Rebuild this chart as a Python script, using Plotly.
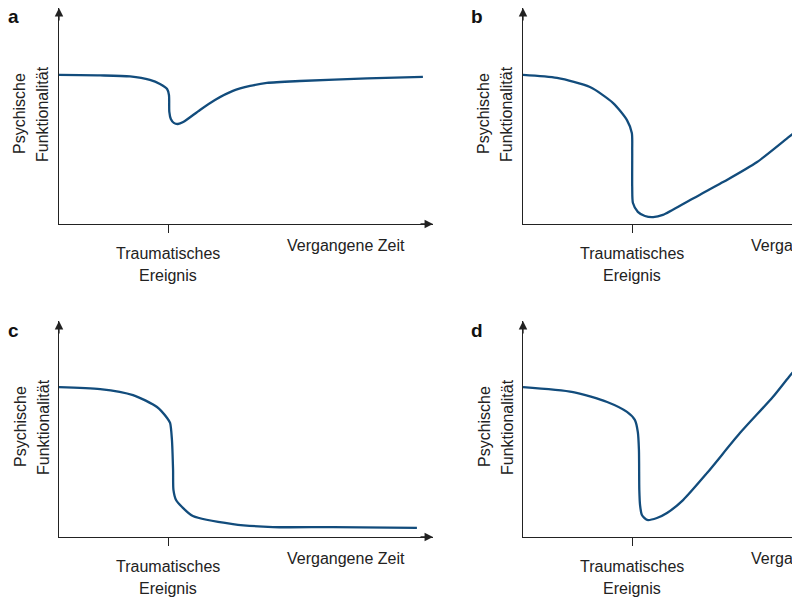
import plotly.graph_objects as go

# curve a: small dip, fast recovery
a_x = [0, 11, 19, 24.3, 27, 28.9, 29.4, 29.5, 29.9, 30.7, 31.8, 33.2, 37.7, 41.7, 46.5, 51.1, 55.6, 64.4, 82.4, 97.3]
a_y = [69.0, 68.8, 68.3, 66.7, 64.8, 62.5, 59.7, 51.9, 48.6, 46.8, 46.3, 47.2, 52.8, 57.4, 61.6, 63.9, 65.3, 66.2, 67.4, 68.1]

# curve b: deep drop, slow recovery
b_x = [0, 9.1, 17.9, 24.1, 27.8, 29.1, 29.2, 29.2, 29.4, 30.7, 32.6, 34.8, 37.4, 44.7, 53.5, 62.6, 71.1, 74.1]
b_y = [69.0, 67.6, 63.4, 56.0, 48.1, 42.1, 34.3, 17.1, 9.7, 5.6, 3.7, 3.2, 4.2, 11.1, 19.4, 28.7, 40.3, 44.4]

# curve c: drop without recovery
c_x = [0, 11, 19.8, 26.2, 28.9, 29.7, 30.2, 30.5, 30.6, 31.3, 32.9, 35.8, 46.5, 57.2, 73.3, 95.7]
c_y = [69.4, 68.5, 65.7, 60.2, 55.1, 52.8, 44.9, 31.0, 21.8, 17.1, 13.9, 9.7, 6.0, 4.6, 4.6, 4.2]

# curve d: deep drop, growth beyond the start level
d_x = [0, 13.4, 22.5, 27.8, 29.9, 30.7, 31.0, 31.1, 31.3, 31.8, 33.2, 35.8, 38.5, 42.8, 49.2, 58.0, 66.8, 71.1, 74.1]
d_y = [69.4, 67.1, 62.5, 57.9, 54.2, 48.6, 40.3, 21.8, 14.8, 10.2, 7.9, 8.8, 11.1, 17.1, 29.6, 48.1, 64.8, 74.1, 80.1]

event_x = {'a': 29.4, 'b': 29.2, 'c': 29.4, 'd': 29.2}
panel_names = ['a', 'b', 'c', 'd']
xlabel = 'Vergangene Zeit'
ylabel = ['Psychische', 'Funktionalität']
event_label = ['Traumatisches', 'Ereignis']

W, H = 792, 598
LINE = '#124c7c'
AX = '#222222'
FONT = 'Liberation Sans, Arial, sans-serif'


def px(x):
    return x / W


def py(y):
    return 1 - y / H


# panel origins in pixels: (x of y-axis, y of x-axis), offsets of label block
panels = {
    'a': dict(x0=59, y0=224, dx=0, dy=0, curve=(a_x, a_y)),
    'b': dict(x0=523, y0=224, dx=464, dy=0, curve=(b_x, b_y)),
    'c': dict(x0=59, y0=537, dx=0, dy=313, curve=(c_x, c_y)),
    'd': dict(x0=523, y0=537, dx=464, dy=313, curve=(d_x, d_y)),
}

fig = go.Figure()
layout = dict(width=W, height=H, margin=dict(l=0, r=0, t=0, b=0),
              paper_bgcolor='white', plot_bgcolor='white', showlegend=False,
              font=dict(family=FONT, size=16, color='#222222'))
annotations = []

for i, name in enumerate(panel_names):
    p = panels[name]
    n = '' if i == 0 else str(i + 1)
    x_end = min(p['x0'] + 374, W)
    xmax = (x_end - p['x0']) / 3.74
    layout['xaxis' + n] = dict(domain=[px(p['x0']), px(x_end)], range=[0, xmax],
                               showgrid=False, zeroline=False, showline=True,
                               linecolor=AX, linewidth=1.3, tickvals=[event_x[name]],
                               ticks='outside', ticklen=8, tickwidth=1.3, tickcolor=AX,
                               showticklabels=False, anchor='y' + n, fixedrange=True)
    layout['yaxis' + n] = dict(domain=[py(p['y0']), py(p['y0'] - 216)], range=[0, 100],
                               showgrid=False, zeroline=False, showline=True,
                               linecolor=AX, linewidth=1.3, ticks='', showticklabels=False,
                               anchor='x' + n, fixedrange=True)
    cx, cy = p['curve']
    fig.add_trace(go.Scatter(x=cx, y=cy, mode='lines', xaxis='x' + n, yaxis='y' + n,
                             line=dict(color=LINE, width=2.3, shape='spline', smoothing=0.7),
                             hoverinfo='skip'))

    # arrowheads
    annotations.append(dict(x=0, y=100, xref='x' + n, yref='y' + n, ax=0, ay=14,
                            text='', showarrow=True, arrowhead=2, arrowsize=1.3,
                            arrowwidth=1.3, arrowcolor=AX))
    if p['x0'] + 374 <= W:
        annotations.append(dict(x=100, y=0, xref='x' + n, yref='y' + n, ax=-14, ay=0,
                                text='', showarrow=True, arrowhead=2, arrowsize=1.3,
                                arrowwidth=1.3, arrowcolor=AX))

    dx, dy = p['dx'], p['dy']
    annotations += [
        dict(x=px(13 + dx), y=py(17 + dy), text='<b>' + name + '</b>', font=dict(size=19, color='#111111')),
        dict(x=px(20 + dx), y=py(114 + dy), text=ylabel[0], textangle=-90),
        dict(x=px(43 + dx), y=py(114 + dy), text=ylabel[1], textangle=-90),
        dict(x=px(168 + dx), y=py(253 + dy), text=event_label[0]),
        dict(x=px(168 + dx), y=py(275 + dy), text=event_label[1]),
        dict(x=px(346 + dx), y=py(245 + dy), text=xlabel),
    ]

for ann in annotations:
    ann.setdefault('xref', 'paper')
    ann.setdefault('yref', 'paper')
    ann.setdefault('showarrow', False)
    ann.setdefault('xanchor', 'center')
    ann.setdefault('yanchor', 'middle')

layout['annotations'] = annotations
fig.update_layout(**layout)
# drop the default 8px body margin so the figure fills the window
fig.write_html("out.html", config={'displayModeBar': False},
               post_script="document.body.style.margin='0px';")
